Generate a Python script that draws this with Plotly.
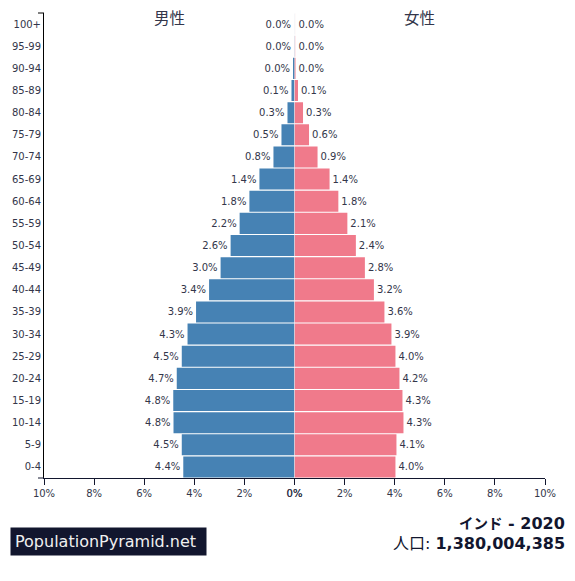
import plotly.graph_objects as go
from plotly.subplots import make_subplots

AGE = ["0-4", "5-9", "10-14", "15-19", "20-24", "25-29", "30-34", "35-39", "40-44", "45-49", "50-54",
       "55-59", "60-64", "65-69", "70-74", "75-79", "80-84", "85-89", "90-94", "95-99", "100+"]
MALE = [4.44, 4.50, 4.83, 4.84, 4.70, 4.50, 4.27, 3.93, 3.41, 2.95, 2.55,
        2.19, 1.80, 1.40, 0.84, 0.52, 0.28, 0.12, 0.04, 0.01, 0.002]
FEMALE = [4.03, 4.07, 4.35, 4.31, 4.19, 4.03, 3.87, 3.59, 3.17, 2.81, 2.45,
          2.11, 1.75, 1.40, 0.92, 0.58, 0.34, 0.14, 0.04, 0.015, 0.004]
MALE_LABELS = ["4.4%", "4.5%", "4.8%", "4.8%", "4.7%", "4.5%", "4.3%", "3.9%", "3.4%", "3.0%", "2.6%",
               "2.2%", "1.8%", "1.4%", "0.8%", "0.5%", "0.3%", "0.1%", "0.0%", "0.0%", "0.0%"]
FEMALE_LABELS = ["4.0%", "4.1%", "4.3%", "4.3%", "4.2%", "4.0%", "3.9%", "3.6%", "3.2%", "2.8%", "2.4%",
                 "2.1%", "1.8%", "1.4%", "0.9%", "0.6%", "0.3%", "0.1%", "0.0%", "0.0%", "0.0%"]
TICKS = [0, 2, 4, 6, 8, 10]
TICK_TEXT = ["0%", "2%", "4%", "6%", "8%", "10%"]
# 1px未満のバーは薄く見える
BAR_OPACITY = [1] * 19 + [0.3, 0.08]

FONT = "DejaVu Sans, Noto Sans CJK JP"
INK = "#12162e"
TEXT = "#33364a"

fig = make_subplots(rows=1, cols=2, shared_yaxes=True, horizontal_spacing=0)
fig.add_trace(go.Bar(y=AGE, x=MALE, orientation="h",
                     marker=dict(color="#4682b4", line=dict(width=0), opacity=BAR_OPACITY),
                     text=MALE_LABELS, textposition="outside", cliponaxis=False), row=1, col=1)
fig.add_trace(go.Bar(y=AGE, x=FEMALE, orientation="h",
                     marker=dict(color="#f07a8b", line=dict(width=0), opacity=BAR_OPACITY),
                     text=FEMALE_LABELS, textposition="outside", cliponaxis=False), row=1, col=2)
fig.update_traces(textfont=dict(size=10, color=TEXT, family=FONT), showlegend=False, hoverinfo="skip")

xaxis = dict(tickvals=TICKS, ticktext=TICK_TEXT, showgrid=False, zeroline=False, showline=True,
             linecolor=INK, linewidth=1, ticks="outside", ticklen=6, tickcolor=INK,
             tickfont=dict(size=10, color=TEXT, family=FONT))
fig.update_xaxes(range=[10, 0], row=1, col=1, **xaxis)
fig.update_xaxes(range=[0, 10], row=1, col=2, **xaxis)
fig.update_yaxes(categoryorder="array", categoryarray=AGE, showgrid=False, zeroline=False,
                 ticks="", tickfont=dict(size=10, color=TEXT, family=FONT))
fig.update_yaxes(showline=True, linecolor="#000000", linewidth=1, row=1, col=1)

for name, axis in [("男性", "x"), ("女性", "x2")]:
    fig.add_annotation(text=name, xref=axis, yref="paper", x=5, y=1, yanchor="middle", yshift=-6,
                       showarrow=False, font=dict(size=15.5, color=TEXT, family=FONT))
# y軸の両端の目盛り
for py in [0, 1]:
    fig.add_shape(type="line", xref="paper", yref="paper", xsizemode="pixel", xanchor=0, x0=-6, x1=0,
                  y0=py, y1=py, line=dict(color="#000000" if py else INK, width=1))

fig.add_annotation(text="PopulationPyramid.net", xref="paper", yref="paper", x=0, y=0, xanchor="left",
                   yanchor="top", xshift=-34.5, yshift=-49, showarrow=False, bgcolor=INK, width=187,
                   align="left", borderpad=4, font=dict(size=16, color="#f0f0f0", family=FONT))
fig.add_annotation(text="<b><span style='font-size:14.5px'>インド</span> - 2020</b>", xref="paper", yref="paper",
                   x=1, y=0, xanchor="right", yanchor="top", xshift=22, yshift=-34, showarrow=False,
                   font=dict(size=16, color=INK, family=FONT))
fig.add_annotation(text="人口: <b>1,380,004,385</b>", xref="paper", yref="paper", x=1, y=0, xanchor="right",
                   yanchor="top", xshift=22, yshift=-54, showarrow=False,
                   font=dict(size=16, color=INK, family=FONT))

fig.update_layout(width=575, height=581, margin=dict(l=43.5, r=29.5, t=12.5, b=103), bargap=0.05,
                  plot_bgcolor="white", paper_bgcolor="white", font=dict(family=FONT))
fig.write_html("out.html", config={"displayModeBar": False},
               post_script="document.body.style.margin='0';window.dispatchEvent(new Event('resize'));")
